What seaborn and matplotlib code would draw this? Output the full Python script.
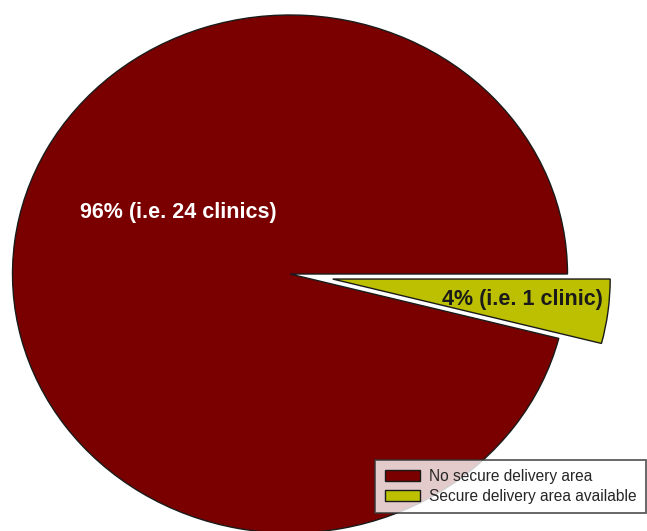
import matplotlib
matplotlib.use("Agg")
import matplotlib.pyplot as plt
import seaborn as sns

# Clinic counts by delivery-area status
categories = ["No secure delivery area", "Secure delivery area available"]
clinics = [24, 1]
slice_colors = ["#7a0000", "#bcc000"]
label_colors = ["white", "#1a1a1a"]

sns.set_style("white")
plt.rcParams["font.family"] = ["Liberation Sans", "DejaVu Sans"]

total = sum(clinics)
labels = []
for n in clinics:
    pct = round(100 * n / total)
    unit = "clinic" if n == 1 else "clinics"
    labels.append(f"{pct}% (i.e. {n} {unit})")

fig = plt.figure(figsize=(6.47, 5.31), dpi=100)
ax = fig.add_axes([0, 0, 1, 1])

wedges, _ = ax.pie(
    clinics,
    colors=slice_colors,
    startangle=0,
    counterclock=True,
    explode=[0, 0.155],
    wedgeprops=dict(edgecolor="#1a1a1a", linewidth=1.0),
)

# slightly flattened pie, cut off at the bottom of the canvas
cx, cy, rx, ry = 290, 274, 277.5, 259
ax.set_aspect("auto")
ax.set_xlim(-cx / rx, (647 - cx) / rx)
ax.set_ylim(-(531 - cy) / ry, cy / ry)
ax.axis("off")

label_pos = [(-0.404, 0.236), (0.836, -0.10)]
for txt, (x, y), c in zip(labels, label_pos, label_colors):
    ax.text(x, y, txt, ha="center", va="center", fontsize=15.5,
            fontweight="bold", color=c)

leg = ax.legend(
    wedges, categories,
    loc="lower right",
    bbox_to_anchor=(646 / 647, 18 / 531),
    bbox_transform=fig.transFigure,
    borderaxespad=0,
    fontsize=11.2,
    frameon=True,
    fancybox=False,
    handlelength=2.3,
    handleheight=0.7,
    handletextpad=0.55,
    labelspacing=0.3,
    borderpad=0.6,
)
leg.get_frame().set_edgecolor("#333333")
leg.get_frame().set_linewidth(1.3)
leg.get_frame().set_facecolor("white")
for h in leg.legend_handles:
    h.set_edgecolor("#1a1a1a")
    h.set_linewidth(1.0)

fig.savefig("out.png", dpi=100)
